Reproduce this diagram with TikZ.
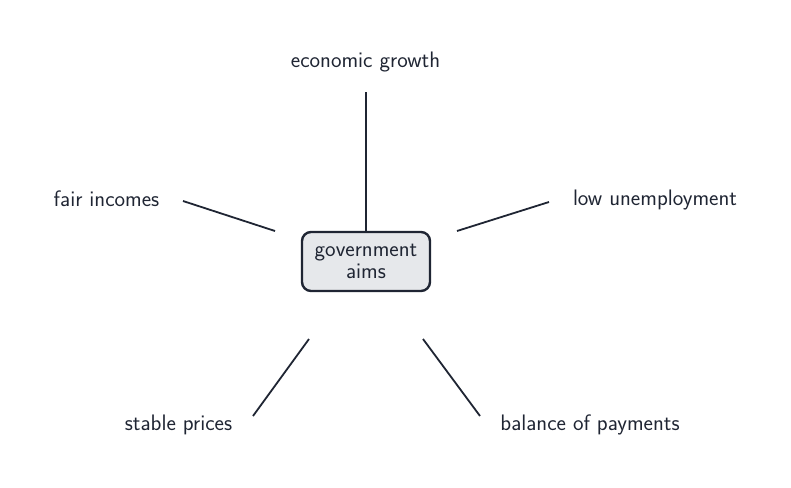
\documentclass[tikz,border=0pt]{standalone}
\usepackage{tikz}
\definecolor{ink}{HTML}{1F2533}
\definecolor{boxfill}{HTML}{E6E8EB}
\tikzset{
  lbl/.style={text=ink, font=\sffamily\fontsize{22.4pt}{24pt}\selectfont, inner sep=0pt, anchor=base},
  aimbox/.style={draw=ink, fill=boxfill, line width=2.4pt, rounded corners=9pt,
    minimum width=128pt, minimum height=59pt, align=center, text=ink,
    font=\sffamily\fontsize{22.4pt}{22.5pt}\selectfont, inner sep=0pt},
  link/.style={draw=ink, line width=1.8pt}
}
\begin{document}
\begin{tikzpicture}[x=1pt,y=-1pt]
\useasboundingbox (0,0) rectangle (791,487);
\node[aimbox] (gov) at (366,261.5) {government\\aims};
\node[lbl] (growth) at (365.5,67.3) {economic growth};
\node[lbl] (fair) at (106.5,206.7) {fair incomes};
\node[lbl] (unemp) at (655,205.3) {low unemployment};
\node[lbl] (prices) at (178.5,430.3) {stable prices};
\node[lbl] (bop) at (590,430.3) {balance of payments};
\coordinate (growthA) at (366,92);
\coordinate (fairA) at (183,201);
\coordinate (fairB) at (275,231);
\coordinate (unempA) at (549,202);
\coordinate (unempB) at (457,231);
\coordinate (pricesA) at (253,416);
\coordinate (pricesB) at (309,339);
\coordinate (bopA) at (480,416);
\coordinate (bopB) at (423,339);
\draw[link] (growthA) -- (gov.north);
\draw[link] (fairA) -- (fairB);
\draw[link] (unempA) -- (unempB);
\draw[link] (pricesA) -- (pricesB);
\draw[link] (bopA) -- (bopB);
\end{tikzpicture}
\end{document}
